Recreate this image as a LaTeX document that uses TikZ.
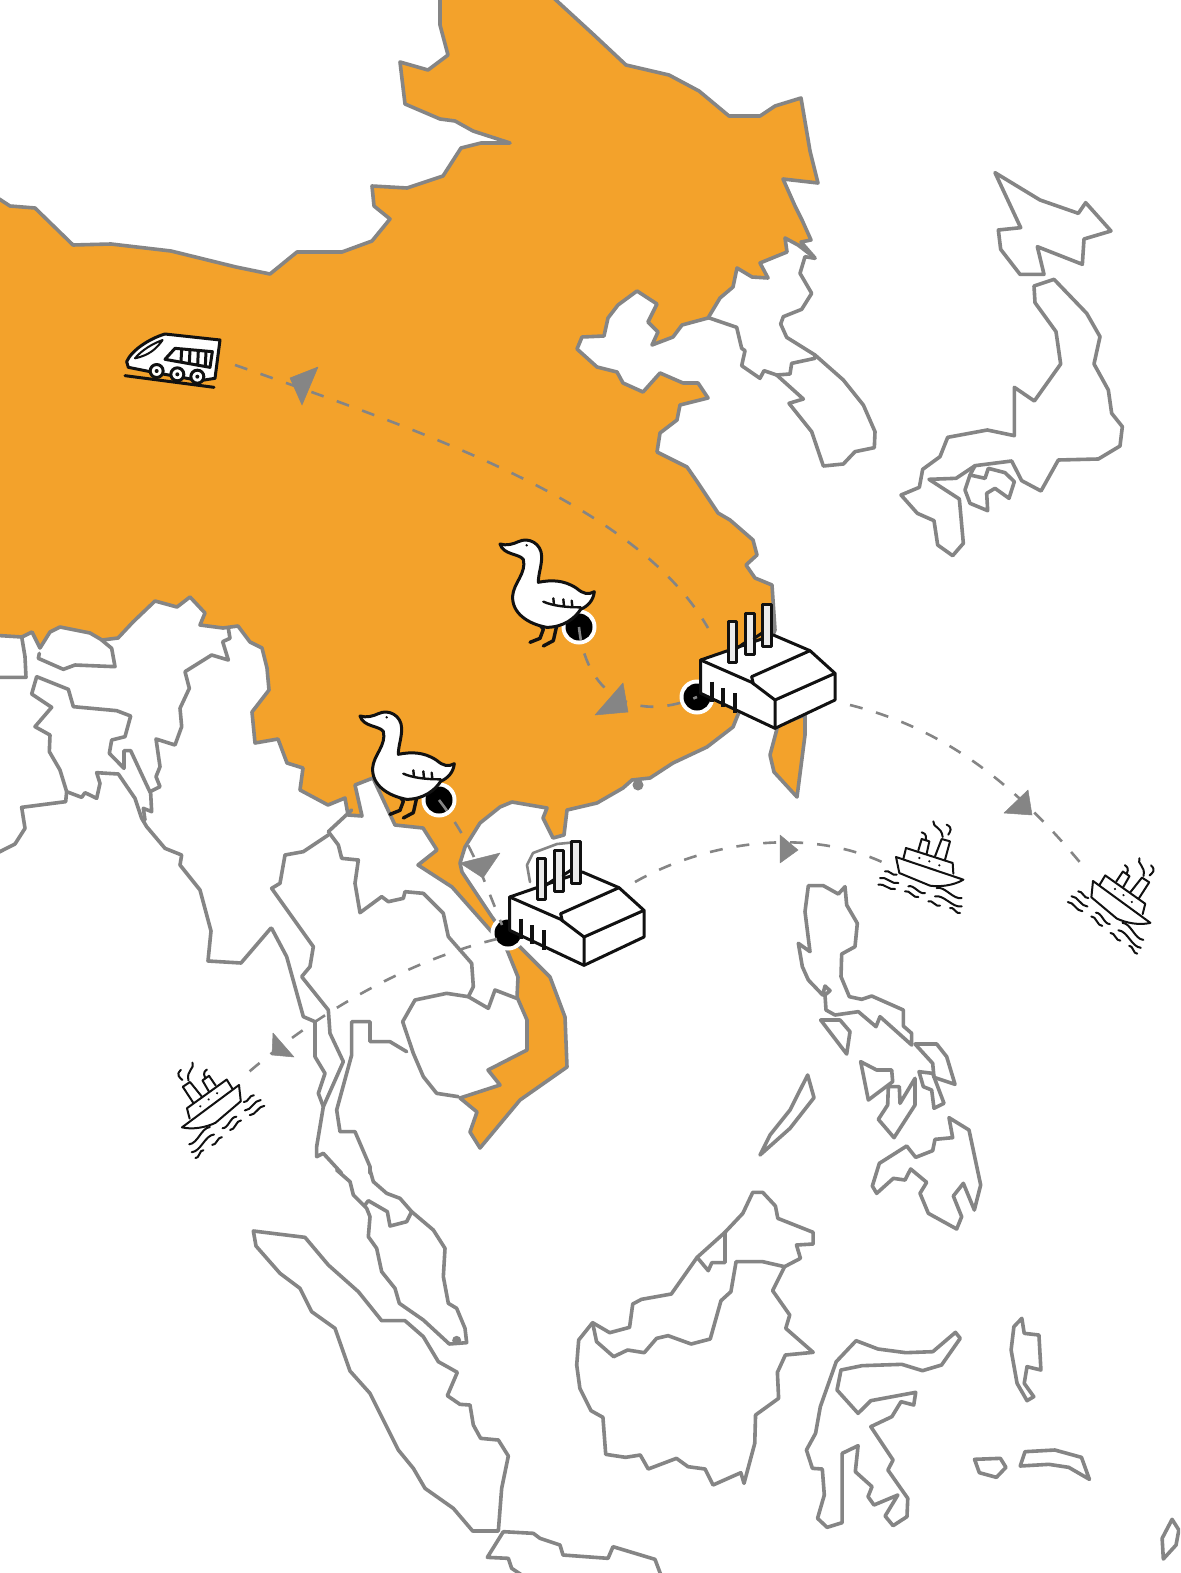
\documentclass[tikz,border=0pt]{standalone}
\definecolor{chinaorange}{HTML}{F3A22B}
\definecolor{mapgray}{HTML}{858585}
\definecolor{inkblack}{HTML}{111111}
\tikzset{
  land/.style={draw=mapgray,line width=3.6pt,line join=round,line cap=round},
  zm/.style 2 args={shift={(#1,#2)},x=.33333pt,y=-.33333pt},
  route/.style={draw=mapgray,line width=2.6pt,dash pattern=on 13pt off 14pt},
  tip/.style={fill=mapgray,draw=mapgray,line width=.5pt,line join=round},
  ink/.style={draw=inkblack,line width=3pt,line join=round,line cap=round},
  thinink/.style={draw=inkblack,line width=2pt,line join=round,line cap=round},
  factorypic/.pic={
    \begin{scope}[x=.33333pt,y=-.33333pt]
      \filldraw[ink,fill=white] (722,420)--(940,345)--(1050,392)--(1125,460)--(1125,540)--(945,625)--(722,520)--cycle;
      \draw[ink] (722,420)--(875,487)--(945,540)--(945,625);
      \draw[ink] (945,540)--(1125,460);
      \draw[ink] (875,470)--(1050,392);
      \draw[ink] (875,470)--(880,492);
      \draw[ink,line width=4pt,line cap=butt] (755,485)--(755,545) (790,505)--(790,560) (825,520)--(825,578);
      \filldraw[ink,fill=white!92!black] (805,305) rectangle (830,428);
      \filldraw[ink,fill=white!92!black] (855,280) rectangle (882,402);
      \filldraw[ink,fill=white!92!black] (908,252) rectangle (935,378);
      \draw[ink] (830,385)--(855,368) (882,355)--(908,338);
    \end{scope}
  },
  goosepic/.pic={
    \begin{scope}[x=.33333pt,y=-.33333pt]
      \draw[ink,line width=3.4pt] (238,312)--(250,328)--(240,355)--(210,367);
      \draw[ink,line width=3.4pt] (290,318)--(280,362)--(250,378);
      \filldraw[ink,fill=white] (120,72) .. controls (140,78) and (160,72) .. (175,65)
        .. controls (205,50) and (245,70) .. (245,110)
        .. controls (245,140) and (235,160) .. (235,187)
        .. controls (270,180) and (310,178) .. (350,205)
        .. controls (370,222) and (385,225) .. (403,215)
        .. controls (400,240) and (385,258) .. (362,268)
        .. controls (345,295) and (310,322) .. (260,322)
        .. controls (205,312) and (155,280) .. (158,228)
        .. controls (160,190) and (200,160) .. (190,118)
        .. controls (175,100) and (130,105) .. (120,72) -- cycle;
      \draw[thinink,line width=2.4pt] (250,245) .. controls (280,258) and (320,262) .. (362,262);
      \draw[thinink,line width=2.4pt] (280,235)--(282,255) (310,238)--(312,258) (335,242)--(337,260);
      \fill[inkblack] (200,76) circle (1.3pt);
    \end{scope}
  },
  shippic/.pic={
    \begin{scope}[x=.33333pt,y=-.33333pt,shift={(-108,-172)}]
      \draw[thinink] (108,172)--(310,240) .. controls (280,258) and (240,262) .. (210,258)--(118,220)--cycle;
      \draw[thinink] (130,178)--(138,145)--(278,190)--(280,222);
      \draw[thinink] (175,152)--(185,118)--(208,125)--(200,162);
      \draw[thinink] (225,170)--(245,118)--(270,125)--(255,180);
      \draw[thinink] (220,65) .. controls (218,85) and (245,80) .. (248,112);
      \draw[thinink] (260,75) .. controls (280,85) and (270,95) .. (265,105);
      \draw[thinink] (185,98) .. controls (205,105) and (195,115) .. (198,122);
      \fill[inkblack] (178,175) circle (1.2pt) (208,185) circle (1.2pt) (238,197) circle (1.2pt);
      \foreach \a/\b/\c/\d in {55/255/105/268,60/235/115/250,75/215/110/225,135/275/175/292,145/260/195/280,205/305/240/318,225/290/305/320,230/265/305/295,270/325/300/340}
        \draw[thinink] (\a,\b) .. controls ({\a+(\c-\a)/3},{\b-6}) and ({\a+2*(\c-\a)/3},{\d+6}) .. (\c,\d);
    \end{scope}
  },
  trainpic/.pic={
    \begin{scope}[x=.33333pt,y=-.33333pt]
      \filldraw[ink,fill=white] (80,155) .. controls (95,120) and (150,85) .. (195,72)--(360,90)--(345,205)--(300,212)--(150,185)--(85,172)--cycle;
      \filldraw[thinink,fill=white] (105,145) .. controls (125,120) and (160,100) .. (188,90) .. controls (170,115) and (150,135) .. (105,145) -- cycle;
      \filldraw[ink,fill=white] (195,148)--(225,115)--(337,125)--(330,172)--cycle;
      \draw[ink] (245,118)--(243,155) (270,120)--(268,160) (295,122)--(293,165) (318,124)--(316,168);
      \foreach \cx/\cy in {170/183,232/193,292/200} {
        \filldraw[ink,fill=white] (\cx,\cy) circle (6.5pt);
        \fill[inkblack] (\cx,\cy) circle (2pt);
      }
      \draw[ink] (75,197)--(342,232);
    \end{scope}
  },
}
\begin{document}
\begin{tikzpicture}[x=1pt,y=-1pt]
\useasboundingbox (0,0) rectangle (1180,1573);
\clip (0,0) rectangle (1180,1573);
\fill[white] (0,0) rectangle (1180,1573);

% China and Vietnam
\filldraw[land,fill=chinaorange]
 (-10,193)--(10,206)--(35,208)--(73,245)--(111,244)--(171,251)--(236,267)--(270,274)--(297,252)--(342,252)--(372,241)--(390,219)--(374,206)--(372,186)--(407,188)--(443,176)--(461,148)--(481,143)--(510,143)--(473,131)--(455,121)--(440,119)--(405,104)--(400,62)--(428,70)--(448,55)--(440,25)--(440,-10)
 --(545,-10)--(594,35)--(626,65)--(669,75)--(699,91)--(729,116)--(760,116)--(775,106)--(801,98)--(810,151)--(818,183)--(783,179)--(795,206)--(802,220)--(811,240)--(801,242)--(815,258)--(798,245)--(785,238)--(787,252)--(760,263)--(768,278)--(752,277)--(737,268)--(733,287)--(720,298)--(708,318)--(682,325)--(673,337)--(652,345)--(658,332)--(648,322)--(657,304)--(637,291)--(618,305)--(608,318)--(604,336)--(582,337)--(577,349)--(597,367)--(617,372)--(623,383)--(643,392)--(660,373)--(683,383)--(698,383)--(708,398)--(680,405)--(677,420)--(660,433)--(657,452)--(687,467)--(696,480)
 --(718,513)--(730,520)--(753,540)--(757,555)--(746,565)--(755,578)--(772,585)--(775,630)--(737,717)--(733,727)--(707,747)--(673,763)--(650,778)--(632,780)--(623,788)--(597,803)--(567,810)--(564,835)--(553,838)--(543,818)--(547,808)--(512,802)--(500,807)--(480,823)--(465,847)--(460,863)--(462,872)--(492,917)--(505,935)--(520,947)--(550,977)--(565,1017)--(567,1067)--(520,1100)--(480,1148)--(470,1132)--(477,1112)--(460,1098)--(500,1085)--(488,1070)--(527,1050)--(527,1020)--(517,997)--(518,977)--(505,945)--(490,930)--(452,887)--(418,865)--(437,850)--(423,828)--(395,825)--(373,778)--(355,785)--(362,816)--(348,815)--(345,798)--(328,805)--(300,790)--(303,768)--(287,763)--(278,739)--(255,743)--(252,712)--(269,690)--(267,668)--(262,648)--(250,642)--(238,626)--(223,628)--(200,625)--(205,613)--(190,597)--(177,607)--(155,601)--(133,622)--(118,638)--(102,640)--(90,633)--(60,627)--(50,632)--(40,648)--(32,632)--(22,637)--(-10,635)--cycle;
% Taiwan
\filldraw[land,fill=chinaorange] (778,725)--(770,755)--(774,772)--(797,797)--(805,735)--(805,715)--cycle;
\fill[mapgray] (638,785) circle (5.5pt);

% South Asia and mainland
\begin{scope}[zm={0}{590}]
 \draw[land] (118,190)--(115,205)--(190,238)--(225,225)--(345,230)--(335,175)--(305,150);
 \draw[land] (65,140)--(75,200)--(78,262)--(-20,262);
 \draw[land] (685,115)--(690,145)--(668,155)--(685,210)--(635,195)--(555,245)--(568,295)--(540,355)--(545,410)--(525,465)--(468,447)--(480,530)--(468,560)--(480,590)--(450,605);
 \draw[land] (110,260)--(205,298)--(220,350)--(350,362)--(392,378)--(375,440)--(335,450)--(328,490)--(372,535)--(372,482)--(392,482)--(440,585)--(452,610)--(455,665)--(430,655)--(435,690);
 \draw[land] (110,260)--(95,312)--(155,352)--(105,410)--(150,435)--(148,485)--(180,540)--(200,605)--(245,622)--(255,608)--(290,625)--(300,580)--(290,548)--(355,552)--(405,625)--(425,685)--(440,710)--(495,775)--(545,795)--(540,825)--(600,900)--(633,1023)--(624,1113)--(723,1119)--(813,1014);
 \draw[land] (200,605)--(197,635)--(65,652)--(75,715)--(45,762)--(-10,790);
\end{scope}
\begin{scope}[zm={260}{790}]
 \draw[land] (275,60)--(205,125)--(235,165)--(245,205)--(295,210)--(285,280)--(300,368)--(365,320)--(385,335)--(430,325)--(435,305)--(490,310)--(550,370)--(565,440)--(635,520)--(640,590)--(625,620)--(685,655)--(705,600)--(770,625);
 \draw[land] (625,620)--(560,610)--(465,630)--(428,695)--(460,790)--(490,860)--(530,910)--(595,920);
 \draw[land] (205,135)--(130,185)--(75,195)--(60,280)--(35,295)--(160,470)--(150,530)--(125,560)--(205,660)--(210,730)--(250,815)--(190,950)--(170,1070)--(170,1100)--(190,1090)--(245,1150);
 \draw[land] (35,415)--(80,500)--(130,680)--(165,695)--(165,800)--(195,850)--(175,910)--(190,950);
 \draw[land] (440,785)--(390,755)--(330,755)--(330,695)--(275,695)--(275,795)--(230,960)--(240,1025)--(285,1025)--(330,1130)--(330,1150);
\end{scope}

% Malay peninsula, Sumatra, Java
\begin{scope}[zm={240}{1170}]
 \draw[land] (290,0)--(330,35)--(340,75)--(380,115)--(390,140)--(385,200)--(410,235)--(425,305)--(465,355)--(478,400)--(550,450)--(628,522)--(680,518)--(675,475)--(650,415)--(625,400)--(610,320)--(615,235)--(580,180)--(515,125)--(480,85)--(440,70)--(400,35)--(390,0);
 \draw[land] (515,125)--(500,155)--(450,168)--(442,125)--(385,92)--(375,105);
 \fill[mapgray] (650,511) circle (4.5pt);
 \draw[land] (40,183)--(195,202)--(265,285)--(355,365)--(425,452)--(495,452)--(550,500)--(595,575)--(652,607)--(622,677)--(660,703)--(690,705)--(700,765)--(722,805)--(775,810)--(805,858)--(785,955)--(775,1083)--(698,1083)--(640,1015)--(555,955)--(520,895)--(475,840)--(435,760)--(390,670)--(330,603)--(285,475)--(215,425)--(180,355)--(120,310)--(48,228)--cycle;
 \draw[land] (790,1085)--(880,1090)--(900,1105)--(960,1125)--(969,1155)--(1104,1165)--(1119,1130)--(1245,1168)--(1272,1240);
 \draw[land] (790,1085)--(742,1162)--(805,1165)--(815,1195)--(860,1225);
\end{scope}

% Borneo, Sulawesi, Moluccas
\begin{scope}[shift={(560,1170)},x=.39744pt,y=-.33333pt]
 \draw[land] (82,458)--(125,488)--(175,472)--(183,402)--(205,388)--(280,372)--(345,262)--(415,187)--(460,130)--(485,67)--(510,67)--(542,108)--(548,145)--(637,187)--(637,222)--(595,225)--(605,265)--(565,290)--(535,362)--(578,435)--(568,475)--(637,547)--(567,555)--(547,607)--(550,685)--(492,735)--(490,820)--(463,940)--(455,908)--(385,945)--(365,897)--(322,890)--(293,865)--(222,897)--(202,855)--(165,862)--(115,853)--(108,742)--(78,722)--(50,655)--(42,585)--(47,510)--cycle;
 \draw[land] (82,458)--(92,515)--(135,560)--(170,540)--(212,548)--(243,505)--(272,497)--(330,522)--(378,507)--(405,392)--(430,365)--(443,275)--(510,275)--(565,290);
 \draw[land] (345,262)--(373,302)--(382,278)--(415,278)--(415,187);
 \draw[land] (745,512)--(800,537)--(870,548)--(938,545)--(995,487)--(1007,505)--(960,585)--(912,602)--(860,583)--(760,587)--(707,600)--(697,660)--(750,730)--(782,692)--(895,667)--(890,705)--(858,695)--(835,740)--(782,770)--(838,870)--(825,900)--(875,985)--(873,1040)--(838,1067)--(818,1038)--(850,975)--(790,1005)--(775,980)--(785,950)--(743,905)--(750,827)--(710,850)--(710,1058)--(672,1072)--(648,1045)--(665,975)--(660,897)--(635,895)--(620,840)--(643,790)--(655,710)--(695,575)--cycle;
 \draw[land] (1162,445)--(1168,490)--(1205,495)--(1210,600)--(1175,590)--(1168,640)--(1192,680)--(1175,692)--(1150,640)--(1135,540)--(1142,470)--cycle;
 \draw[land] (1043,868)--(1108,865)--(1122,892)--(1098,922)--(1055,908)--cycle;
 \draw[land] (1170,845)--(1245,840)--(1312,862)--(1332,928)--(1280,892)--(1230,883)--(1158,888)--cycle;
 \draw[land] (1540,1048)--(1557,1080)--(1550,1125)--(1518,1167)--(1515,1105)--cycle;
\end{scope}

% Philippines
\begin{scope}[zm={740}{870}]
 \draw[land] (205,47)--(250,47)--(295,72)--(315,50)--(320,105)--(352,160)--(345,230)--(305,252)--(303,320)--(328,380)--(365,388)--(395,378)--(490,420)--(490,468)--(515,490)--(515,525)--(420,440)--(408,470)--(355,425)--(285,435)--(258,420)--(255,375)--(270,362)--(255,348)--(248,375)--(205,330)--(187,290)--(175,220)--(210,245)--(195,125)--cycle;
 \draw[land] (242,450)--(300,450)--(330,485)--(320,552)--cycle;
 \draw[land] (525,522)--(590,522)--(620,560)--(645,643)--(582,622)--(578,580)--cycle;
 \draw[land] (537,605)--(578,610)--(612,700)--(582,715)--(575,660)--(550,650)--cycle;
 \draw[land] (362,575)--(410,600)--(455,600)--(458,635)--(385,690)--cycle;
 \draw[land] (445,650)--(478,650)--(480,700)--(525,625)--(525,705)--(462,803)--(415,748)--(443,705)--cycle;
 \draw[land] (203,615)--(222,683)--(150,775)--(60,855)--(90,795)--(150,720)--cycle;
 \draw[land] (627,743)--(687,780)--(722,945)--(703,1020)--(670,940)--(640,978)--(665,1040)--(650,1077)--(565,1030)--(540,970)--(560,937)--(512,897)--(495,930)--(460,925)--(410,970)--(397,948)--(418,880)--(500,828)--(527,862)--(578,842)--(585,808)--(638,803)--cycle;
\end{scope}

% Japan
\begin{scope}[zm={880}{160}]
 \draw[land] (345,38)--(480,120)--(595,160)--(617,128)--(693,213)--(612,237)--(607,313)--(472,260)--(492,343)--(420,343)--(362,268)--(355,210)--(422,203)--cycle;
 \draw[land] (462,378)--(522,358)--(620,460)--(660,530)--(642,612)--(685,690)--(695,760)--(727,800)--(720,858)--(655,897)--(535,900)--(483,993)--(425,962)--(395,903)--(285,917)--(228,955)--(147,958)--(238,1017)--(250,1150)--(218,1187)--(173,1155)--(162,1082)--(112,1060)--(63,1005)--(118,982)--(128,928)--(180,890)--(203,832)--(322,810)--(403,827)--(403,682)--(463,723)--(542,612)--(528,515)--(465,428)--cycle;
 \draw[land] (315,955)--(325,925)--(375,938)--(403,965)--(387,1015)--(345,985)--(320,1000)--(323,1052)--(270,1030)--(255,990)--(270,945)--cycle;
 \draw[land] (285,917)--(270,945);
\end{scope}

% Korea
\begin{scope}[zm={560}{220}]
 \draw[land] (765,115)--(735,110)--(720,160)--(755,220)--(725,268)--(670,290)--(662,312)--(680,352)--(765,405)--(850,480)--(910,555)--(945,635)--(943,683)--(885,695)--(850,732)--(790,738)--(755,635)--(687,550)--(730,537)--(650,465);
 \draw[land] (445,293)--(530,322)--(545,385)--(555,392)--(545,437)--(600,475)--(612,452)--(650,465)--(690,462)--(695,430)--(765,415)--(765,405);
\end{scope}

% outline behind the stacks of the southern factory
\draw[land,line width=2.6pt] (530,882)--(527,865)--(533,853)--(557,844)--(577,842);

% stops
\coordinate (g1) at (579,627);
\coordinate (f1) at (697,697);
\coordinate (g2) at (439,800);
\coordinate (f2) at (508,933);
\foreach \n in {g1,f1,g2,f2} {
  \fill[white] (\n) circle (17.5pt);
  \fill[black] (\n) circle (13.5pt);
}

% routes
\coordinate (train) at (235,365);
\coordinate (fa) at (708,628);
\coordinate (fb) at (850,705);
\coordinate (shipb) at (1083,866);
\coordinate (fc) at (635,882);
\coordinate (shipa) at (882,862);
\coordinate (fd) at (497,939);
\coordinate (shipc) at (243,1077);
\coordinate (fe) at (502,925);
\draw[route] (train) .. controls (450,440) and (640,510) .. (fa);
\draw[route] (g1) .. controls (585,690) and (630,725) .. (f1);
\draw[route] (g2) .. controls (470,840) and (480,870) .. (fe);
\draw[route] (fb) .. controls (950,730) and (1020,790) .. (shipb);
\draw[route] (fc) .. controls (700,845) and (800,825) .. (shipa);
\draw[route] (fd) .. controls (410,960) and (320,1010) .. (shipc);

% arrowheads
\filldraw[tip] (290,378)--(318,367)--(302,405)--cycle;
\filldraw[tip] (623,683)--(628,712)--(595,715)--cycle;
\filldraw[tip] (460,863)--(500,853)--(483,878)--cycle;
\filldraw[tip] (1004,813)--(1028,790)--(1032,815)--cycle;
\filldraw[tip] (780,835)--(798,850)--(780,863)--cycle;
\filldraw[tip] (273,1033)--(294,1057)--(272,1055)--cycle;

% icons
\pic at (460,520) {goosepic};
\pic at (320,692) {goosepic};
\pic at (460,520) {factorypic};
\pic at (269,757) {factorypic};
\pic at (100,310) {trainpic};
\pic at (896,857) {shippic};
\pic[rotate=-17.5] at (1093,881) {shippic};
\pic[rotate=18,xscale=-1] at (239,1085) {shippic};
\end{tikzpicture}
\end{document}
